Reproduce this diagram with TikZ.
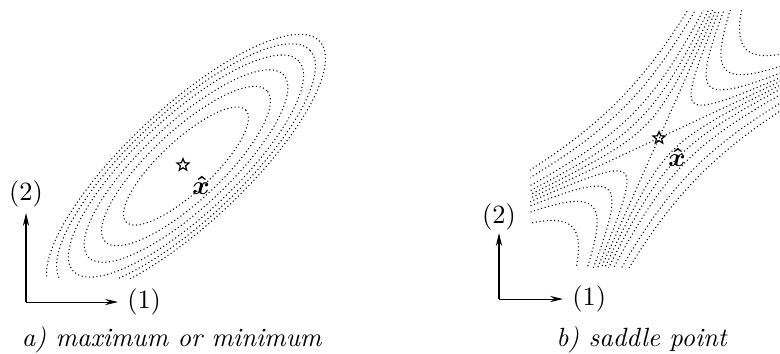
\documentclass[tikz,border=0pt]{standalone}
\usepackage{amsmath, amssymb}
\usepackage{bm}
\usetikzlibrary{arrows.meta, shapes.geometric}

\begin{document}
\begin{tikzpicture}[
    contour/.style={line width=0.4pt, dash pattern=on 0.4pt off 1pt},
    axis/.style={-{Stealth[length=5pt, width=2.4pt, inset=1.8pt]}},
    point/.style={star, star points=5, star point ratio=2.3, draw, line width=0.45pt, minimum size=4.8pt, inner sep=0pt}]
  \useasboundingbox (0,0) rectangle (10.4,4.707);
  % a) Ellipses autour du point
  \begin{scope}
    \clip (0,1.0) rectangle (5,4.7);
    \foreach \s in {1,1.35,1.63,1.88,2.07,2.23}
      \draw[contour, rotate around={43:(2.48,2.493)}] (2.48,2.493) ellipse ({1.093*\s} and {0.347*\s});
  \end{scope}
  \node[point] (starA) at (2.44,2.507) {};
  \node (xhatA) at (2.68,2.24) {$\bm{\hat{x}}$};
  % a) Axes
  \coordinate (oA) at (0.347,0.68);
  \coordinate (e1A) at (1.573,0.68);
  \coordinate (e2A) at (0.347,1.867);
  \draw[axis] (oA) -- (e1A);
  \draw[axis] (oA) -- (e2A);
  \node[right] (lab1A) at (e1A) {(1)};
  \node[above, inner sep=2pt] (lab2A) at (e2A) {(2)};
  \node (capA) at (2.293,0.173) {\textit{a) maximum or minimum}};
  % b) Hyperboles du point selle
  \begin{scope}
    \clip (7.067,1.147) rectangle (10.4,4.573);
    \begin{scope}[shift={(8.787,2.867)}, x={(0.4067cm,0.9135cm)}, y={(0.9063cm,0.4226cm)}]
      \draw[contour] (-6,0) -- (6,0);
      \draw[contour] (0,-6) -- (0,6);
      % niveaux positifs
      \foreach \c in {0.124,0.267,0.462,0.782}
        \foreach \sg in {1,-1}
          \draw[contour] plot[domain=-3:3, samples=121, variable=\t]
            ({\sg*sqrt(\c)*exp(\t)}, {\sg*sqrt(\c)*exp(-\t)});
      % niveaux negatifs
      \foreach \c in {0.124,0.267,0.462,0.782,1.1}
        \foreach \sg in {1,-1}
          \draw[contour] plot[domain=-3:3, samples=121, variable=\t]
            ({\sg*sqrt(\c)*exp(\t)}, {-\sg*sqrt(\c)*exp(-\t)});
    \end{scope}
  \end{scope}
  \node[point] (starB) at (8.787,2.867) {};
  \node (xhatB) at (9.027,2.613) {$\bm{\hat{x}}$};
  % b) Axes
  \coordinate (oB) at (6.653,0.72);
  \coordinate (e1B) at (7.507,0.72);
  \coordinate (e2B) at (6.653,1.6);
  \draw[axis] (oB) -- (e1B);
  \draw[axis] (oB) -- (e2B);
  \node[right] (lab1B) at (e1B) {(1)};
  \node[above, inner sep=1pt] (lab2B) at (e2B) {(2)};
  \node (capB) at (8.56,0.173) {\textit{b) saddle point}};
\end{tikzpicture}
\end{document}
